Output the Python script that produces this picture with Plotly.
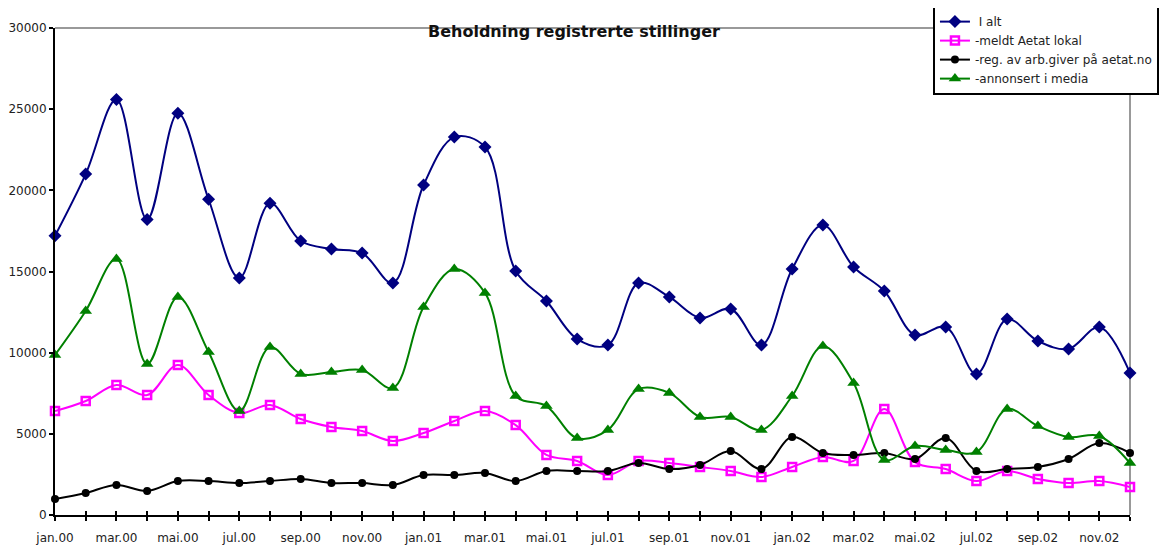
import plotly.graph_objects as go

months = ["jan", "feb", "mar", "apr", "mai", "jun", "jul", "aug", "sep", "okt", "nov", "des"]
years = ["00", "01", "02"]
categories = [f"{m}.{y}" for y in years for m in months]

i_alt = [17200, 21000, 25600, 18200, 24750, 19450, 14600, 19200, 16880, 16390, 16140, 14290,
         20330, 23280, 22670, 15030, 13180, 10840, 10470, 14290, 13430, 12140, 12690, 10470,
         15150, 17860, 15280, 13800, 11090, 11580, 8690, 12070, 10720, 10230, 11580, 8750]
meldt_lokal = [6400, 7020, 8010, 7390, 9240, 7390, 6280, 6780, 5910, 5420, 5170, 4560,
               5050, 5790, 6400, 5540, 3700, 3330, 2460, 3330, 3200, 2960, 2710, 2340,
               2960, 3570, 3330, 6530, 3260, 2830, 2090, 2710, 2220, 1970, 2090, 1720]
reg_arbgiver = [990, 1360, 1850, 1480, 2090, 2090, 1970, 2090, 2220, 1970, 1970, 1850,
                2460, 2460, 2590, 2090, 2710, 2710, 2710, 3200, 2830, 3080, 3940, 2830,
                4800, 3820, 3700, 3820, 3450, 4740, 2710, 2830, 2960, 3450, 4430, 3820]
annonsert = [9860, 12570, 15770, 9300, 13430, 10040, 6400, 10350, 8690, 8810, 8930, 7820,
             12810, 15150, 13680, 7330, 6710, 4740, 5240, 7760, 7520, 6040, 6040, 5240,
             7330, 10410, 8130, 3390, 4250, 4000, 3880, 6530, 5480, 4800, 4870, 3200]

series_names = [" I alt", "-meldt Aetat lokal", "-reg. av arb.giver på aetat.no", "-annonsert i media"]
y_ticks = [0, 5000, 10000, 15000, 20000, 25000, 30000]
y_tick_text = [str(v) for v in y_ticks]

x = list(range(len(categories)))
tick_text = [c if i % 2 == 0 else "" for i, c in enumerate(categories)]

fig = go.Figure()
styles = [
    dict(color="#000080", symbol="diamond", size=10, line=dict(width=0)),
    dict(color="#FF00FF", symbol="square-open", size=8, line=dict(width=2.5, color="#FF00FF")),
    dict(color="#000000", symbol="circle", size=8, line=dict(width=0)),
    dict(color="#008000", symbol="triangle-up", size=11, line=dict(width=0)),
]
data = [i_alt, meldt_lokal, reg_arbgiver, annonsert]
for k, (name, vals, st) in enumerate(zip(series_names, data, styles)):
    fig.add_trace(go.Scatter(
        x=x, y=vals, name=name, mode="lines+markers",
        line=dict(color=st["color"], width=2, shape="spline", smoothing=1.0),
        marker=dict(symbol=st["symbol"], size=st["size"], color=st["color"], line=st["line"]),
        xaxis="x2" if k == 3 else "x",
        cliponaxis=False,
    ))

font_family = "DejaVu Sans, Verdana, sans-serif"

fig.update_layout(
    width=1173, height=547,
    margin=dict(l=47, r=51, t=20, b=40, autoexpand=False),
    paper_bgcolor="white", plot_bgcolor="white",
    font=dict(family=font_family, size=12, color="#222222"),
    showlegend=True,
    legend=dict(
        x=0.8167, y=1.047, xanchor="left", yanchor="top",
        bgcolor="white", bordercolor="black", borderwidth=2,
        font=dict(family=font_family, size=12, color="#222222"),
        tracegroupgap=0, itemwidth=30,
    ),
    xaxis=dict(
        range=[0, 35], tickmode="array", tickvals=x, ticktext=tick_text,
        ticks="outside", ticklen=4, tickwidth=2, tickcolor="black",
        ticklabelstandoff=7,
        showline=True, linecolor="black", linewidth=2, showgrid=False, zeroline=False,
        tickfont=dict(family=font_family, size=12, color="#222222"),
        automargin=False,
    ),
    xaxis2=dict(
        range=[0, 35], overlaying="x", anchor="y", side="bottom",
        tickmode="array", tickvals=x, showticklabels=False,
        ticks="inside", ticklen=4, tickwidth=2, tickcolor="black",
        showline=False, showgrid=False, zeroline=False, automargin=False,
    ),
    yaxis=dict(
        range=[0, 30000], tickmode="array", tickvals=y_ticks, ticktext=y_tick_text,
        ticks="outside", ticklen=4, tickwidth=2, tickcolor="black",
        showline=True, linecolor="black", linewidth=2, showgrid=False, zeroline=False,
        tickfont=dict(family=font_family, size=12, color="#222222"),
        automargin=False,
    ),
    shapes=[
        dict(type="line", xref="paper", yref="paper", x0=0, x1=1, y0=1, y1=1,
             line=dict(color="#999999", width=2), layer="below"),
        dict(type="line", xref="paper", yref="paper", x0=1, x1=1, y0=0, y1=1,
             line=dict(color="#999999", width=2), layer="below"),
    ],
    annotations=[
        dict(text="<b>Beholdning registrerte stillinger</b>", xref="paper", yref="paper",
             x=0.483, y=0.992, xanchor="center", yanchor="middle", showarrow=False,
             font=dict(family=font_family, size=16, color="#111111")),
    ],
)

fig.write_html("out.html")
